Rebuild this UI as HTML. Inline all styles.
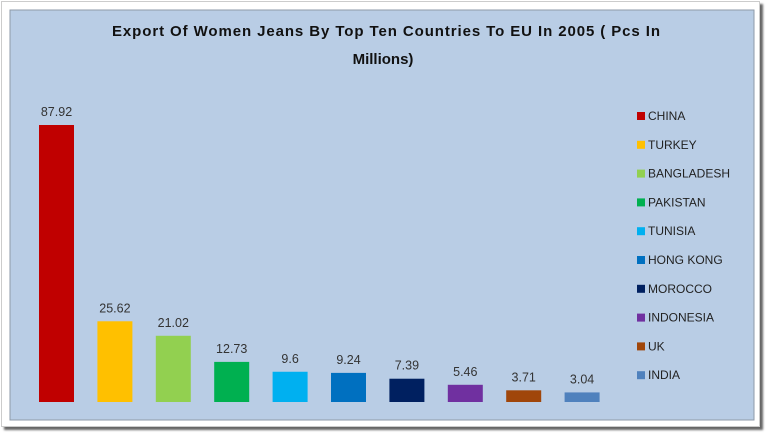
<!DOCTYPE html>
<html><head><meta charset="utf-8"><style>
body{margin:0;width:768px;height:434px;background:#fff;overflow:hidden;font-family:"Liberation Sans",sans-serif}
#outer{position:absolute;left:1px;top:1px;width:757px;height:424px;background:#fff;border:1px solid #ccc;box-shadow:3px 3px 2px #666}
svg{position:absolute;left:0;top:0}
</style></head><body>
<div id="outer"></div>
<svg id="c" width="768" height="434">
<rect x="10" y="10" width="744" height="410" fill="#b9cde5" stroke="#8e9aa8"/>
<text x="112" y="36" textLength="548" lengthAdjust="spacing" font-size="15" font-weight="bold" fill="#111">Export  Of Women Jeans By Top Ten Countries To EU In 2005 ( Pcs In</text>
<text x="383" y="64" text-anchor="middle" font-size="15" font-weight="bold" fill="#111">Millions)</text>
</svg>
<script>
const categories=["CHINA","TURKEY","BANGLADESH","PAKISTAN","TUNISIA","HONG KONG","MOROCCO","INDONESIA","UK","INDIA"];
const values=[87.92,25.62,21.02,12.73,9.6,9.24,7.39,5.46,3.71,3.04];
const labels=["87.92","25.62","21.02","12.73","9.6","9.24","7.39","5.46","3.71","3.04"];
const colors=["#c00000","#ffc000","#92d050","#00b050","#00b0f0","#0070c0","#002060","#7030a0","#a0460a","#4f81bd"];
const svg=document.getElementById('c');const NS="http://www.w3.org/2000/svg";
const base=402,scale=277/87.92;
const xC=i=>56.5+i*58.4, yV=v=>base-v*scale;
function mk(t,a){const e=document.createElementNS(NS,t);for(const k in a)e.setAttribute(k,a[k]);svg.appendChild(e);return e;}
values.forEach((v,i)=>{
 const r=mk('rect',{x:xC(i)-17.5,y:yV(v),width:35,height:base-yV(v),fill:colors[i]});
 
 
 const t=mk('text',{x:xC(i),y:yV(v)-9,'text-anchor':'middle','font-size':12.5,fill:'#333'});
 t.textContent=labels[i];
 
 
 const ly=116+i*28.8;
 const s=mk('rect',{x:637,y:ly-4,width:8,height:8,fill:colors[i]});
 
 
 const lt=mk('text',{x:648,y:ly+4,'font-size':12,fill:'#222'});
 lt.textContent=categories[i];
 
 
});
</script>
</body></html>
